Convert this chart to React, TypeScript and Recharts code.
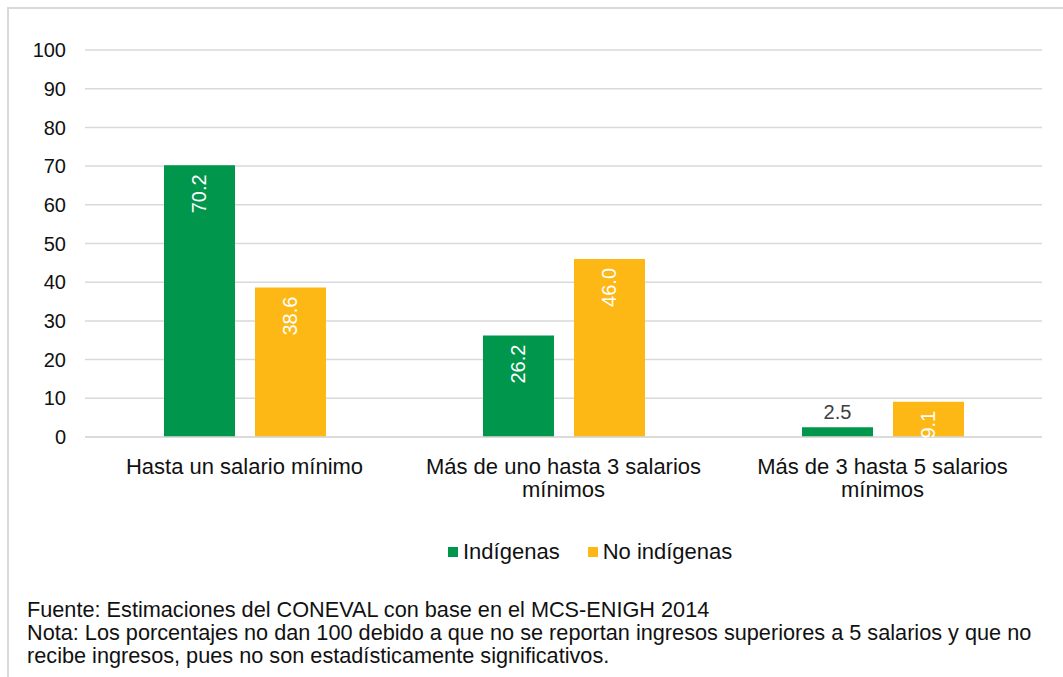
import { BarChart, Bar, XAxis, YAxis, CartesianGrid, LabelList } from "recharts";

const categories = [
  "Hasta un salario mínimo",
  "Más de uno hasta 3 salarios mínimos",
  "Más de 3 hasta 5 salarios mínimos",
];
const indigenas = [70.2, 26.2, 2.5];
const noIndigenas = [38.6, 46.0, 9.1];
const yTicks = [0, 10, 20, 30, 40, 50, 60, 70, 80, 90, 100];
const footerLines = [
  "Fuente: Estimaciones del CONEVAL con base en el MCS-ENIGH 2014",
  "Nota: Los porcentajes no dan 100 debido a que no se reportan ingresos superiores a 5 salarios y que no",
  "recibe ingresos, pues no son estadísticamente significativos.",
];

const GREEN = "#00964B";
const ORANGE = "#FDB815";
const FONT = '"Liberation Sans", Arial, sans-serif';

const data = categories.map((name, i) => ({
  name,
  indigenas: indigenas[i],
  noIndigenas: noIndigenas[i],
}));

// greedy word wrap measured with a canvas
function wrap(text: string, maxWidth: number, font: string): string[] {
  const ctx = document.createElement("canvas").getContext("2d");
  if (!ctx) return [text];
  ctx.font = font;
  const words = text.split(" ");
  const lines: string[] = [];
  let cur = "";
  for (const w of words) {
    const test = cur ? cur + " " + w : w;
    if (ctx.measureText(test).width > maxWidth && cur) {
      lines.push(cur);
      cur = w;
    } else {
      cur = test;
    }
  }
  if (cur) lines.push(cur);
  return lines;
}

const CategoryTick = (props: any) => {
  const { x, y, payload } = props;
  const lines = wrap(payload.value, 300, "22px " + FONT);
  return (
    <text x={x} y={y} textAnchor="middle" fontSize={22} fontFamily={FONT} fill="#111">
      {lines.map((l, i) => (
        <tspan key={i} x={x} y={y + 29 + i * 23} dominantBaseline="central">
          {l}
        </tspan>
      ))}
    </text>
  );
};

const BarLabel = (props: any) => {
  const { x, y, width, value } = props;
  const cx = x + width / 2;
  const txt = Number(value).toFixed(1);
  if (value < 5) {
    // small bar: label sits above the bar, horizontal
    return (
      <text x={cx} y={y - 8} textAnchor="middle" fontSize={20} fontFamily={FONT} fill="#404040">
        {txt}
      </text>
    );
  }
  const ty = y + 9;
  return (
    <text
      x={cx}
      y={ty}
      transform={`rotate(-90, ${cx}, ${ty})`}
      textAnchor="end"
      dominantBaseline="central"
      fontSize={20}
      fontFamily={FONT}
      fill="#ffffff"
    >
      {txt}
    </text>
  );
};

export default function App() {
  return (
    <div
      style={{
        position: "fixed",
        left: 7,
        top: 7,
        width: 1100,
        height: 800,
        border: "2px solid #d9d9d9",
        background: "#fff",
        fontFamily: FONT,
      }}
    >
      <BarChart
        width={1040}
        height={500}
        data={data}
        margin={{ top: 41, right: 7, left: 0, bottom: 0 }}
        barCategoryGap={79}
        barGap={20}
      >
        <CartesianGrid vertical={false} stroke="#d9d9d9" strokeWidth={1.5} />
        <XAxis
          dataKey="name"
          height={72}
          axisLine={{ stroke: "#d9d9d9", strokeWidth: 1.5 }}
          tickLine={false}
          tickMargin={0}
          tickSize={0}
          tick={<CategoryTick />}
          interval={0}
        />
        <YAxis
          width={76}
          domain={[0, 100]}
          ticks={yTicks}
          axisLine={false}
          tickLine={false}
          tickMargin={13}
          tick={{ fontSize: 20, fontFamily: FONT, fill: "#111" }}
        />
        <Bar dataKey="indigenas" fill={GREEN} isAnimationActive={false}>
          <LabelList dataKey="indigenas" content={<BarLabel />} />
        </Bar>
        <Bar dataKey="noIndigenas" fill={ORANGE} isAnimationActive={false}>
          <LabelList dataKey="noIndigenas" content={<BarLabel />} />
        </Bar>
      </BarChart>

      <div
        style={{
          position: "absolute",
          left: 439,
          top: 529,
          display: "flex",
          alignItems: "center",
          fontSize: 22,
          color: "#111",
          lineHeight: "28px",
        }}
      >
        <span style={{ width: 10, height: 10, background: GREEN, display: "inline-block", marginRight: 5 }} />
        <span style={{ marginRight: 28 }}>Indígenas</span>
        <span style={{ width: 10, height: 10, background: ORANGE, display: "inline-block", marginRight: 5 }} />
        <span>No indígenas</span>
      </div>

      <div
        style={{
          position: "absolute",
          left: 18,
          top: 589,
          fontSize: 21.7,
          lineHeight: "23px",
          color: "#111",
          whiteSpace: "nowrap",
        }}
      >
        {footerLines.map((l) => (
          <div key={l}>{l}</div>
        ))}
      </div>
    </div>
  );
}
